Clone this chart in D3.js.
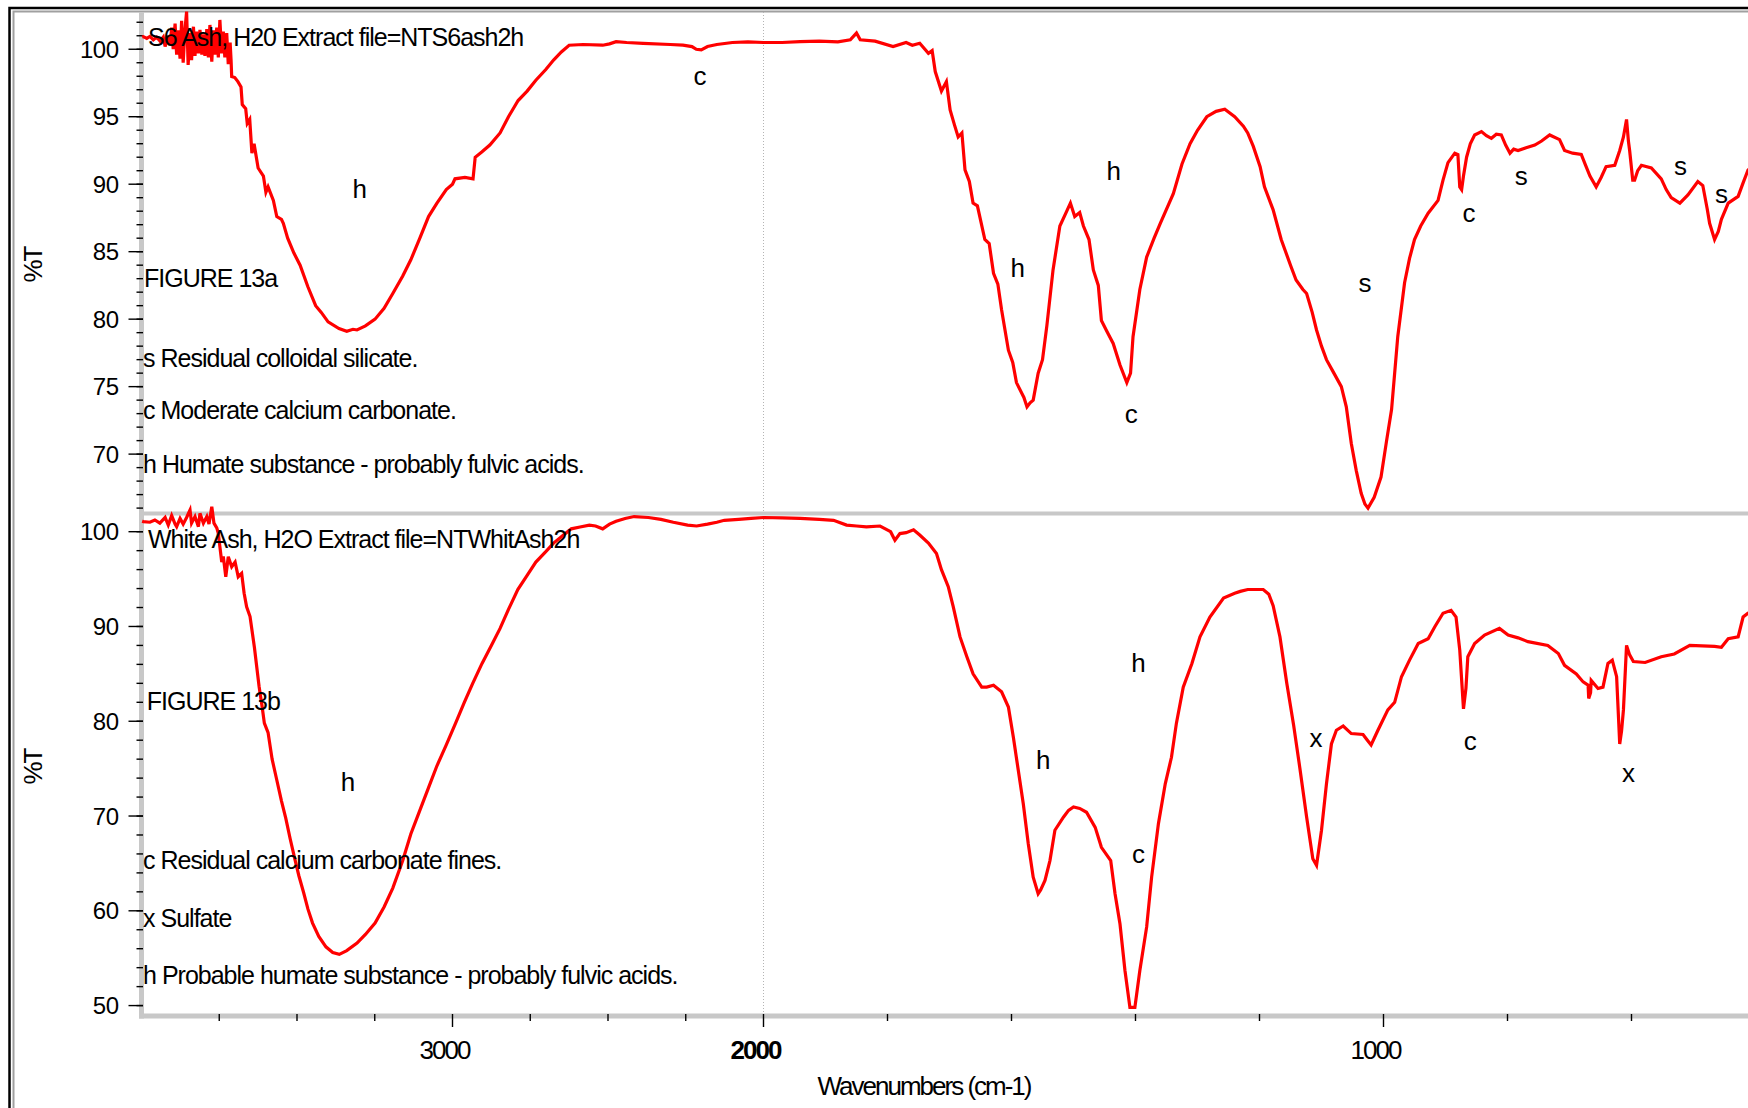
<!DOCTYPE html>
<html>
<head>
<meta charset="utf-8">
<title>FIGURE 13</title>
<script src="https://cdn.jsdelivr.net/npm/d3@7"></script>
<style>
  body { margin: 0; background: #fff; }
  svg { display: block; }
  text { font-family: 'Liberation Sans', Arial, sans-serif; fill: #000; }
  .note { font-size: 25px; letter-spacing: -1px; }
  .peak { font-size: 26px; }
  .ylab { font-size: 24px; letter-spacing: -0.5px; }
  .xlab { font-size: 26px; letter-spacing: -2px; }
  .title { font-size: 26px; letter-spacing: -2px; }
  .spectrum { fill: none; stroke: #ff0000; stroke-width: 3.2; }
  .band { stroke: #c8c8c8; }
  .tick { stroke: #000; stroke-width: 1.4; }
</style>
</head>
<body>
<script>

// S6 Ash, H20 extract (top trace)
var topWn = [3998, 3994, 3983, 3973, 3962, 3951, 3940, 3930, 3924, 3916, 3908, 3903, 3898, 3892, 3887, 3882, 3876, 3871,
  3866, 3860, 3855, 3850, 3844, 3839, 3833, 3828, 3823, 3817, 3812, 3806, 3801, 3796, 3790, 3785, 3780, 3774, 3769, 3764,
  3758, 3753, 3748, 3742, 3737, 3732, 3726, 3721, 3715, 3712, 3710, 3700, 3690, 3680, 3676, 3665, 3660, 3652, 3645, 3638,
  3625, 3608, 3600, 3593, 3576,
  3565, 3550, 3544, 3530, 3510, 3490, 3465, 3440,
  3422, 3400, 3365, 3340, 3320, 3307, 3280, 3249, 3220, 3192, 3160, 3134, 3105, 3077, 3050, 3020, 3000, 2992, 2960, 2934,
  2927, 2905, 2880, 2847, 2820, 2789, 2760, 2732, 2700, 2675, 2650, 2625, 2580, 2517, 2495, 2474, 2440, 2387, 2300, 2259,
  2230, 2216, 2200, 2180, 2150, 2100, 2050, 2000, 1970, 1941, 1910, 1880, 1860, 1850, 1844, 1820, 1791, 1770, 1760, 1748,
  1734, 1728, 1723, 1713, 1705, 1699, 1692, 1686, 1680, 1675, 1668, 1662, 1655, 1643, 1636, 1629, 1622, 1616, 1605, 1598,
  1592, 1580, 1575, 1570, 1565, 1557, 1550, 1543, 1533, 1522, 1512, 1505, 1498, 1490, 1484, 1475, 1468, 1460, 1455, 1445,
  1436, 1425, 1414, 1408, 1404, 1393, 1382, 1370, 1360, 1339, 1325, 1312, 1300, 1285, 1270, 1256, 1240, 1226, 1219, 1210,
  1199, 1192, 1178, 1165, 1150, 1141, 1130, 1124, 1115, 1108, 1100, 1092, 1080, 1068, 1060, 1052, 1044, 1036, 1030, 1025,
  1015, 1004, 995, 987, 977, 966, 958, 950, 940, 928, 912, 904, 896, 885, 880, 877, 874, 871, 866, 860, 853, 842, 834, 826,
  818, 810, 803, 796, 790, 783, 770, 756, 745, 732, 716, 708, 695, 681, 674, 667, 657, 649, 641, 627, 619, 613, 608, 605,
  603, 598, 595, 590, 584, 568, 552, 544, 536, 522, 509, 493, 485, 478, 474, 466, 460, 455, 444, 428, 420, 412, 400];
var topT = [100.9, 100.93, 100.8, 100.95, 100.7, 100.9, 100.6, 100.9, 100.2, 101.0, 100.3, 101.6, 100.0, 101.9, 99.6, 101.4, 99.3, 102.1,
  99.0, 101.5, 102.79, 98.84, 101.2, 99.2, 101.67, 99.5, 101.3, 99.7, 101.43, 99.6, 101.1, 99.5, 101.5, 99.4, 101.8, 99.08, 101.4, 99.6,
  101.6, 99.4, 102.17, 99.7, 101.3, 99.4, 101.19, 98.9, 100.5, 99.2, 97.97, 97.9, 97.6, 97.2, 95.9, 95.6, 94.5, 94.8, 92.3, 93.0,
  91.2, 90.6, 89.4, 89.8, 88.8,
  87.6, 87.4, 87.1, 86.0, 84.9, 84.0, 82.4, 81.0,
  80.5, 79.8, 79.3, 79.1, 79.25, 79.2, 79.5, 80.0, 80.8, 81.9, 83.2, 84.4, 86.0, 87.6, 88.6, 89.6, 90.0, 90.4, 90.5, 90.4,
  92.0, 92.4, 92.9, 93.8, 95.0, 96.2, 96.9, 97.7, 98.5, 99.2, 99.8, 100.3, 100.35, 100.3, 100.4, 100.56, 100.5, 100.44, 100.35, 100.3,
  100.2, 100.0, 99.95, 100.2, 100.35, 100.5, 100.55, 100.5, 100.5, 100.56, 100.6, 100.55, 100.7, 101.2, 100.7, 100.6, 100.2, 100.5, 100.3, 100.44,
  99.7, 99.9, 98.35, 96.9, 97.6, 95.5, 94.4, 93.5, 93.8, 91.06, 90.2, 88.6, 88.4, 85.9, 85.6, 83.4, 82.6, 80.7, 77.7, 76.8,
  75.3, 74.2, 73.5, 73.8, 74.0, 76.0, 77.0, 79.5, 83.65, 86.9, 87.9, 88.6, 87.6, 87.9, 86.9, 85.9, 83.65, 82.5, 79.9, 79.0,
  78.2, 76.6, 75.3, 76.0, 78.7, 82.2, 84.6, 86.0, 87.1, 89.3, 91.5, 93.0, 94.0, 95.0, 95.4, 95.55, 95.0, 94.3, 93.8, 92.8,
  91.3, 89.8, 88.1, 85.9, 84.0, 82.9, 82.2, 81.9, 80.5, 79.2, 78.0, 77.0, 76.0, 75.0, 73.5, 70.8, 68.8, 67.1, 66.3, 66.0,
  66.8, 68.3, 71.0, 73.3, 78.7, 82.7, 84.5, 85.9, 86.9, 87.85, 88.8, 90.3, 91.6, 92.3, 92.2, 89.8, 89.6, 90.6, 92.0, 93.0, 93.65, 93.9, 93.6, 93.4,
  93.7, 93.65, 92.9, 92.3, 92.6, 92.5, 92.7, 92.9, 93.2, 93.65, 93.3, 92.5, 92.3, 92.2, 91.4, 90.6, 89.8, 90.5, 91.3, 91.4, 92.5, 93.5, 94.8, 93.2,
  92.5, 90.3, 90.3, 91.0, 91.4, 91.2, 90.4, 89.6, 89.0, 88.6, 89.2, 90.2, 89.9, 88.2, 87.1, 85.9, 86.5, 87.4, 88.6, 89.1, 90.1, 91.06, 91.5];

// White Ash, H2O extract (bottom trace)
var botWn = [3998, 3994, 3973, 3957, 3941, 3924, 3914, 3903, 3892, 3887, 3876, 3866, 3855, 3844, 3839, 3828, 3817, 3812,
  3801, 3790, 3783, 3774, 3767, 3758, 3753, 3748, 3742, 3737, 3729, 3721, 3710, 3699, 3689, 3678, 3670, 3662, 3651,
  3637, 3622, 3612, 3605, 3593, 3580, 3565, 3550,
  3536, 3522, 3508, 3494, 3479, 3465, 3450, 3430, 3407, 3385, 3364, 3340, 3307, 3280, 3249, 3220, 3192, 3160, 3134, 3105,
  3077, 3050, 3020, 2990, 2962, 2935, 2905, 2875, 2847, 2820, 2790, 2760, 2732, 2700, 2675, 2645, 2618, 2590, 2560, 2540,
  2517, 2495, 2474, 2445, 2416, 2370, 2330, 2290, 2244, 2215, 2180, 2150, 2126, 2080, 2040, 2000, 1970, 1941, 1910, 1887,
  1866, 1850, 1834, 1812, 1795, 1788, 1780, 1770, 1758, 1748, 1734, 1721, 1713, 1702, 1694, 1683, 1672, 1662, 1648, 1640,
  1629, 1616, 1605, 1597, 1589, 1581, 1573, 1565, 1557, 1553, 1546, 1538, 1530, 1516, 1508, 1500, 1490, 1479, 1465, 1455,
  1440, 1433, 1425, 1417, 1409, 1401, 1393, 1382, 1374, 1363, 1352, 1342, 1334, 1323, 1309, 1296, 1280, 1258, 1240, 1231,
  1219, 1194, 1185, 1178, 1167, 1156, 1145, 1135, 1124, 1114, 1108, 1100, 1092, 1084, 1076, 1065, 1052, 1033, 1026, 1020,
  1009, 993, 982, 971, 958, 944, 928, 917, 904, 891, 883, 877, 871, 867, 864, 853, 837, 813, 799, 783, 767, 735, 718, 708,
  689, 678, 670, 669, 666, 665, 654, 646, 638, 631, 624, 619, 616, 613, 608, 603, 597, 578, 552, 531, 506, 466, 455, 444,
  428, 420, 412, 400];
var botT = [101.1, 101.06, 101.0, 101.24, 100.9, 101.5, 100.7, 101.7, 100.8, 100.53, 101.4, 100.8, 101.5, 102.29, 100.9, 101.6, 100.53, 101.94,
  100.9, 101.6, 100.8, 102.64, 100.9, 100.4, 99.83, 98.42, 96.8, 97.4, 95.25, 97.36, 96.3, 96.8, 95.25, 95.6, 93.5, 92.08, 91.05,
  87.8, 83.7, 81.5, 79.8, 78.8, 76.0, 73.8, 71.6,
  69.75, 67.6, 65.6, 63.7, 61.96, 60.2, 58.7, 57.3, 56.2, 55.6, 55.4, 55.8, 56.6, 57.5, 58.7, 60.4, 62.4, 65.3, 68.1, 70.6,
  73.0, 75.3, 77.5, 79.8, 82.0, 84.0, 86.1, 88.0, 89.8, 91.8, 93.9, 95.4, 96.8, 97.9, 98.8, 99.6, 100.3, 100.5, 100.7, 100.6,
  100.3, 100.8, 101.1, 101.4, 101.6, 101.5, 101.3, 101.0, 100.7, 100.6, 100.8, 101.0, 101.2, 101.3, 101.4, 101.5, 101.45, 101.4, 101.3, 101.2,
  100.7, 100.6, 100.5, 100.6, 100.0, 99.1, 99.8, 99.9, 100.2, 99.65, 98.8, 97.7, 96.0, 94.2, 92.1, 88.9, 86.8, 85.0, 83.6, 83.6,
  83.8, 83.1, 81.5, 78.3, 74.8, 71.3, 67.1, 63.55, 61.8, 62.2, 63.2, 65.3, 68.5, 69.9, 70.6, 70.95, 70.8, 70.4, 68.8, 66.7,
  65.3, 61.8, 58.6, 53.7, 49.8, 49.8, 53.7, 58.3, 63.55, 69.2, 73.4, 76.2, 79.8, 83.6, 86.1, 88.9, 91.0, 93.0, 93.5, 93.7,
  93.9, 93.9, 93.4, 92.2, 88.9, 84.0, 79.6, 75.1, 69.9, 65.5, 64.8, 68.5, 73.4, 77.6, 79.05, 79.5, 78.7, 78.6, 78.0, 77.5,
  79.05, 81.2, 82.0, 84.7, 86.45, 88.2, 88.7, 90.0, 91.4, 91.7, 91.0, 87.5, 81.3, 83.5, 86.8, 88.2, 89.1, 89.8, 89.1, 88.8, 88.4, 88.0, 87.15, 85.9,
  85.0, 84.15, 83.8, 82.4, 83.0, 84.3, 83.45, 83.6, 86.1, 86.45, 84.7, 77.6, 79.0, 81.2, 88.0, 87.0, 86.3, 86.2, 86.8, 87.1, 88.0, 87.9, 87.8, 88.7,
  88.9, 91.0, 91.4, 91.8];

// axis ticks and labels
var xMajor = [3000, 2000, 1000];
var xMinor = [3750, 3500, 3250, 2750, 2500, 2250, 1800, 1600, 1400, 1200, 800, 600];
var topYMajor = [100, 95, 90, 85, 80, 75, 70];
var topYMinor = d3.range(66, 103, 1);
var botYMajor = [100, 90, 80, 70, 60, 50];
var botYMinor = d3.range(50, 102, 2);

// peak letters: [label, wavenumber, %T]
var topPeaks = [['c', 2204, 97.36], ['h', 3298, 88.96], ['h', 1590, 83.16], ['h', 1435, 90.32], ['c', 1407, 72.3],
  ['s', 1030, 82.04], ['c', 862, 87.19], ['s', 778, 89.95], ['s', 521, 90.69], ['s', 455, 88.59]];
var botPeaks = [['h', 3336, 72.61], ['h', 1549, 75.0], ['h', 1395, 85.21], ['c', 1395, 65.03], ['x', 1109, 77.29],
  ['c', 860, 76.94], ['x', 605, 73.59]];

// note lines: [text, wavenumber, %T]
var topNotes = [['S6 Ash, H20 Extract file=NTS6ash2h', 3979, 100.24], ['FIGURE 13a', 3992, 82.39],
  ['s Residual colloidal silicate.', 3995, 76.49], ['c Moderate calcium carbonate.', 3995, 72.61],
  ['h Humate substance - probably fulvic acids.', 3995, 68.61]];
var botNotes = [['White Ash, H2O Extract file=NTWhitAsh2h', 3979, 98.23], ['FIGURE 13b', 3983, 81.16],
  ['c Residual calcium carbonate fines.', 3995, 64.37], ['x Sulfate', 3995, 58.27],
  ['h Probable humate substance - probably fulvic acids.', 3995, 52.32]];

var W = 1748, H = 1108;
var left = 141.5, axisY = 1016, midY = 513.5, topY = 12;

var svg = d3.select('body').append('svg')
  .attr('width', W).attr('height', H);

svg.append('rect').attr('width', W).attr('height', H).attr('fill', '#fff');

// outer frame
svg.append('rect')
  .attr('x', 9.5).attr('y', 8).attr('width', W + 20).attr('height', H + 20)
  .attr('fill', 'none').attr('stroke', '#000').attr('stroke-width', 2.5);
svg.append('rect')
  .attr('x', 13.5).attr('y', 11.5).attr('width', W + 20).attr('height', H + 20)
  .attr('fill', 'none').attr('stroke', '#a0a0a0').attr('stroke-width', 2);

// split wavenumber scale, 2000 is the break
var x = d3.scaleLinear().domain([4000, 2000, 400]).range([left, 763.5, 1755.5]);
var yTop = d3.scaleLinear().domain([65.6, 102.76]).range([midY, topY]);
var yBot = d3.scaleLinear().domain([48.9, 101.92]).range([axisY, midY]);

// dotted line at 2000
svg.append('line')
  .attr('x1', x(2000)).attr('x2', x(2000))
  .attr('y1', topY).attr('y2', axisY)
  .attr('stroke', '#b4b4b4').attr('stroke-width', 1).attr('stroke-dasharray', '1,2');

// gray axis bands
svg.append('line').attr('class', 'band')
  .attr('x1', left).attr('x2', left).attr('y1', topY).attr('y2', axisY + 2.5)
  .attr('stroke-width', 5);
svg.append('line').attr('class', 'band')
  .attr('x1', left - 2.5).attr('x2', W).attr('y1', midY).attr('y2', midY)
  .attr('stroke-width', 4);
svg.append('line').attr('class', 'band')
  .attr('x1', left - 2.5).attr('x2', W).attr('y1', axisY).attr('y2', axisY)
  .attr('stroke-width', 5);

function yAxis(y, major, minor) {
  var g = svg.append('g');
  g.selectAll('line.minor').data(minor).enter().append('line')
    .attr('class', 'tick')
    .attr('x1', left - 5).attr('x2', left + 1.5)
    .attr('y1', function(d) { return y(d) }).attr('y2', function(d) { return y(d) });
  g.selectAll('line.major').data(major).enter().append('line')
    .attr('class', 'tick')
    .attr('x1', left - 13).attr('x2', left + 1.5)
    .attr('y1', function(d) { return y(d) }).attr('y2', function(d) { return y(d) });
  g.selectAll('text').data(major).enter().append('text')
    .attr('class', 'ylab')
    .attr('x', left - 23).attr('y', function(d) { return y(d) })
    .attr('dy', '0.36em')
    .attr('text-anchor', 'end')
    .text(function(d) { return d });
}
yAxis(yTop, topYMajor, topYMinor);
yAxis(yBot, botYMajor, botYMinor);

// x axis ticks
svg.selectAll('line.xminor').data(xMinor).enter().append('line')
  .attr('class', 'tick')
  .attr('x1', function(d) { return x(d) }).attr('x2', function(d) { return x(d) })
  .attr('y1', axisY - 2).attr('y2', axisY + 5);
svg.selectAll('line.xmajor').data(xMajor).enter().append('line')
  .attr('class', 'tick')
  .attr('x1', function(d) { return x(d) }).attr('x2', function(d) { return x(d) })
  .attr('y1', axisY - 2).attr('y2', axisY + 11);
svg.selectAll('text.xlab').data(xMajor).enter().append('text')
  .attr('class', 'xlab')
  .attr('x', function(d) { return x(d) - 8 }).attr('y', 1059)
  .attr('text-anchor', 'middle')
  .attr('font-weight', function(d) { return d == 2000 ? 'bold' : 'normal' })
  .text(function(d) { return d });

// axis titles
svg.append('text').attr('class', 'title')
  .attr('x', 924).attr('y', 1095).attr('text-anchor', 'middle')
  .text('Wavenumbers (cm-1)');
[265, 767].forEach(function(cy) {
  svg.append('text').attr('class', 'title')
    .attr('transform', 'translate(42,' + cy + ') rotate(-90)')
    .attr('text-anchor', 'middle')
    .text('%T');
});

// spectra
function trace(wn, t, y) {
  var pts = wn.map(function(d, i) { return [d, t[i]] });
  var line = d3.line()
    .x(function(d) { return x(d[0]) })
    .y(function(d) { return y(d[1]) });
  svg.append('path').attr('class', 'spectrum').attr('d', line(pts));
}
trace(topWn, topT, yTop);
trace(botWn, botT, yBot);

// notes and peak letters
function labels(notes, peaks, y) {
  svg.append('g').selectAll('text').data(notes).enter().append('text')
    .attr('class', 'note')
    .attr('x', function(d) { return x(d[1]) }).attr('y', function(d) { return y(d[2]) })
    .text(function(d) { return d[0] });
  svg.append('g').selectAll('text').data(peaks).enter().append('text')
    .attr('class', 'peak')
    .attr('x', function(d) { return x(d[1]) }).attr('y', function(d) { return y(d[2]) })
    .attr('text-anchor', 'middle')
    .text(function(d) { return d[0] });
}
labels(topNotes, topPeaks, yTop);
labels(botNotes, botPeaks, yBot);

</script>
</body>
</html>
